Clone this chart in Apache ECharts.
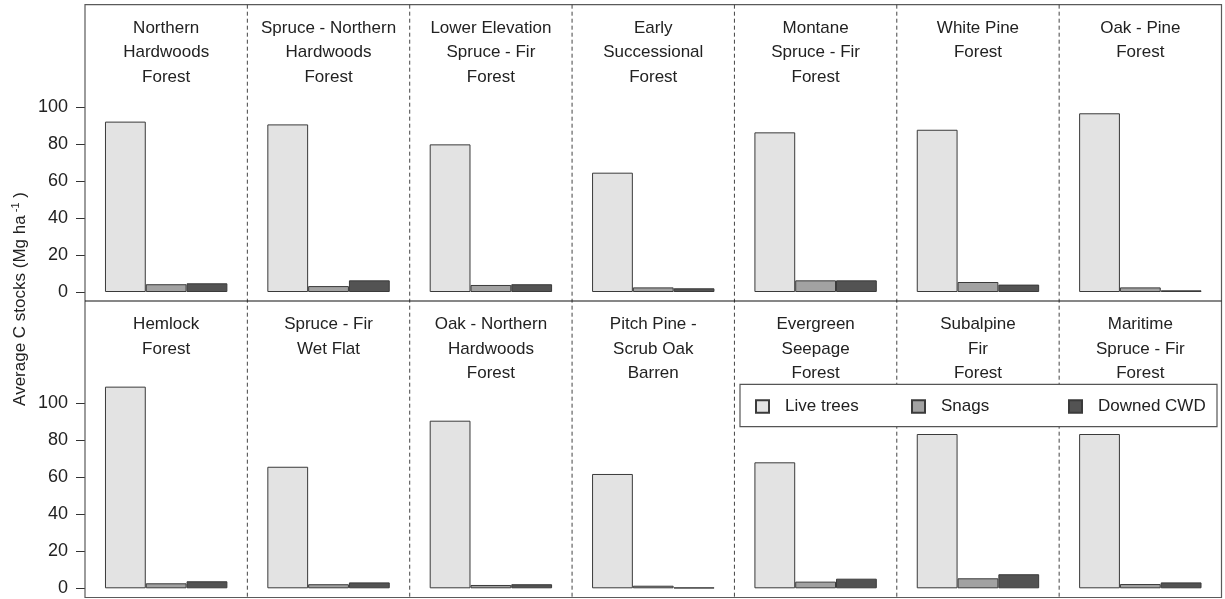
<!DOCTYPE html>
<html>
<head>
<meta charset="utf-8">
<script src="https://cdn.jsdelivr.net/npm/echarts@6/dist/echarts.min.js"></script>
<style>
  html, body { margin: 0; padding: 0; background: #fff; }
  #chart { width: 1225px; height: 599px; }
</style>
</head>
<body>
<div id="chart"></div>
<script>
// Forest types, one panel each (top row first, then bottom row)
const forestTypes = [
  'Northern\nHardwoods\nForest',
  'Spruce - Northern\nHardwoods\nForest',
  'Lower Elevation\nSpruce - Fir\nForest',
  'Early\nSuccessional\nForest',
  'Montane\nSpruce - Fir\nForest',
  'White Pine\nForest',
  'Oak - Pine\nForest',
  'Hemlock\nForest',
  'Spruce - Fir\nWet Flat',
  'Oak - Northern\nHardwoods\nForest',
  'Pitch Pine -\nScrub Oak\nBarren',
  'Evergreen\nSeepage\nForest',
  'Subalpine\nFir\nForest',
  'Maritime\nSpruce - Fir\nForest'
];

// Average carbon stocks (Mg ha-1) per pool
const liveTrees = [92.1, 90.6, 79.8, 64.5, 86.3, 87.7, 96.6, 109.0, 65.7, 90.6, 61.8, 68.1, 83.4, 83.4];
const snags     = [4.2, 3.2, 3.8, 2.5, 6.3, 5.4, 2.5, 2.7, 2.2, 1.8, 1.4, 3.6, 5.4, 2.3];
const downedCWD = [4.7, 6.3, 4.2, 2.0, 6.3, 4.0, 0.9, 3.8, 3.2, 2.2, 0.4, 5.2, 7.6, 3.2];

const poolNames = ['Live trees', 'Snags', 'Downed CWD'];
const yTicks = [0, 20, 40, 60, 80, 100];

const FONT = '"Liberation Sans", Arial, sans-serif';
const poolColors = ['#e3e3e3', '#a2a2a2', '#535353'];
const poolValues = [liveTrees, snags, downedCWD];

// Panel frame geometry
const L = 85, R = 1221.5, T = 4.7, MID = 301, B = 597.5;
const nCols = 7;
const pw = (R - L) / nCols;
const plotH = 287.3;      // from value 0 up to the panel top
const yMax = 155.3;

const grids = [], xAxes = [], yAxes = [], series = [], graphics = [];

forestTypes.forEach((name, i) => {
  const row = Math.floor(i / nCols);
  const col = i % nCols;
  const left = L + col * pw;
  const top = row === 0 ? T : MID;
  grids.push({ left: left, top: top, width: pw, height: plotH });
  xAxes.push({ type: 'category', gridIndex: i, data: [name], show: false });
  const showAxis = col === 0;
  yAxes.push({
    type: 'value', gridIndex: i, min: 0, max: yMax,
    show: true,
    axisLine: { show: false },
    splitLine: { show: false },
    axisTick: {
      show: showAxis, length: 9, customValues: yTicks,
      lineStyle: { color: '#333', width: 1 }
    },
    axisLabel: {
      show: showAxis, customValues: yTicks, margin: 17,
      fontSize: 18, color: '#222', fontFamily: FONT
    }
  });
  poolNames.forEach((pool, k) => {
    series.push({
      type: 'bar', name: pool, xAxisIndex: i, yAxisIndex: i,
      data: [poolValues[k][i]],
      barWidth: 40.8, barGap: '0%',
      itemStyle: { color: poolColors[k], borderColor: '#3a3a3a', borderWidth: 1 },
      emphasis: { disabled: true },
      silent: true
    });
  });
  // panel title
  graphics.push({
    type: 'text', z: 20,
    style: {
      text: name, x: left + pw / 2, y: top + 11.2,
      align: 'center', verticalAlign: 'top',
      fontSize: 17, lineHeight: 24.5, fontFamily: FONT, fill: '#222'
    }
  });
});

// outer frame, row divider and dashed column dividers
graphics.push({
  type: 'rect', z: 1,
  shape: { x: L, y: T, width: R - L, height: B - T },
  style: { fill: 'none', stroke: '#5a5a5a', lineWidth: 1.2 }
});
graphics.push({
  type: 'line', z: 2,
  shape: { x1: L, y1: MID, x2: R, y2: MID },
  style: { stroke: '#111', lineWidth: 1.2 }
});
for (let k = 1; k < nCols; k++) {
  const x = L + k * pw;
  graphics.push({
    type: 'line', z: 1,
    shape: { x1: x, y1: T, x2: x, y2: B },
    style: { stroke: '#444', lineWidth: 1, lineDash: [4, 3] }
  });
}

// legend box
graphics.push({
  type: 'rect', z: 50,
  shape: { x: 740, y: 384.3, width: 477, height: 42.4 },
  style: { fill: '#fff', stroke: '#555', lineWidth: 1.2 }
});

// y-axis title
graphics.push({
  type: 'text', z: 20,
  x: 20, y: 299, rotation: Math.PI / 2,
  style: {
    text: '{a|Average C stocks (Mg ha}{s| -1}{a| )}',
    align: 'center', verticalAlign: 'middle',
    rich: {
      a: { fontSize: 17, lineHeight: 20, fontFamily: FONT, fill: '#222' },
      s: { fontSize: 11, lineHeight: 12, verticalAlign: 'top', fontFamily: FONT, fill: '#222' }
    }
  }
});

const legendLefts = [755, 911, 1068];
const legends = poolNames.map((pool, k) => ({
  data: [pool], left: legendLefts[k], top: 396.5,
  orient: 'horizontal', padding: 0, z: 100,
  icon: 'rect', itemWidth: 13, itemHeight: 12.5,
  selectedMode: false,
  textStyle: { fontSize: 17, lineHeight: 20, fontFamily: FONT, color: '#222', padding: [0, 0, 0, 11] }
}));

const chart = echarts.init(document.getElementById('chart'), null, { renderer: 'canvas' });
chart.setOption({
  animation: false,
  backgroundColor: '#fff',
  grid: grids,
  xAxis: xAxes,
  yAxis: yAxes,
  legend: legends,
  series: series,
  graphic: graphics
});
</script>
</body>
</html>
